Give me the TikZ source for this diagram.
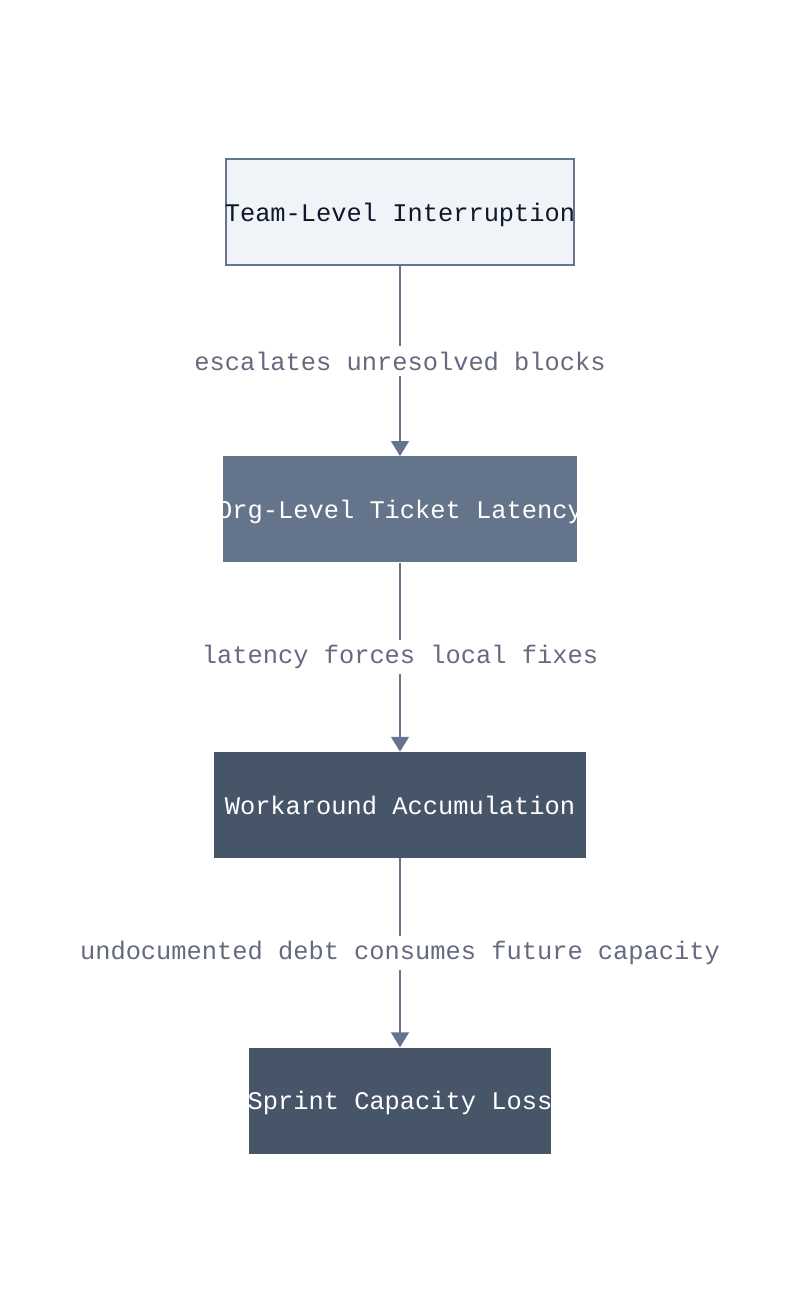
\documentclass[tikz,border=0pt]{standalone}
\usepackage{fontspec}
\setmonofont{Liberation Mono}
\usepackage{xcolor}
\usetikzlibrary{arrows.meta,positioning}

\definecolor{slatemid}{HTML}{64748B}
\definecolor{slatedark}{HTML}{475569}
\definecolor{slatelight}{HTML}{F0F4F9}
\definecolor{inkdark}{HTML}{0F172A}
\definecolor{labelgray}{HTML}{666A80}

\newcommand{\boxtext}[1]{\makebox[0pt][c]{#1}}

\begin{document}
\begin{tikzpicture}[
    x=0.02cm, y=0.02cm,
    font=\ttfamily\fontsize{14.45}{17}\selectfont,
    box/.style={rectangle, minimum height=2.12cm, inner xsep=0pt, text depth=0pt, align=center},
    lightbox/.style={box, draw=slatemid, line width=1.3pt, fill=slatelight, text=inkdark},
    midbox/.style={box, fill=slatemid, text=white},
    darkbox/.style={box, fill=slatedark, text=white},
    arrow/.style={-{Triangle[width=10pt,length=8.5pt]}, line width=1.3pt, draw=slatemid},
    edgelabel/.style={fill=white, text=labelgray, inner xsep=1pt, inner ysep=3pt}
]
    \useasboundingbox (0,0) rectangle (800,-1313);

    \node[lightbox, minimum width=6.96cm] (team) at (400,-212) {\boxtext{Team-Level Interruption}};
    \node[midbox, minimum width=7.1cm, below=3.8cm of team] (org) {\boxtext{Org-Level Ticket Latency}};
    \node[darkbox, minimum width=7.46cm, below=3.78cm of org] (work) {\boxtext{Workaround Accumulation}};
    \node[darkbox, minimum width=6.04cm, below=3.78cm of work] (sprint) {\boxtext{Sprint Capacity Loss}};

    \draw[arrow] (team) -- node[edgelabel] (lblescalate) {escalates unresolved blocks} (org);
    \draw[arrow] (org) -- node[edgelabel] (lbllatency) {latency forces local fixes} (work);
    \draw[arrow] (work) -- node[edgelabel] (lbldebt) {undocumented debt consumes future capacity} (sprint);
\end{tikzpicture}
\end{document}
